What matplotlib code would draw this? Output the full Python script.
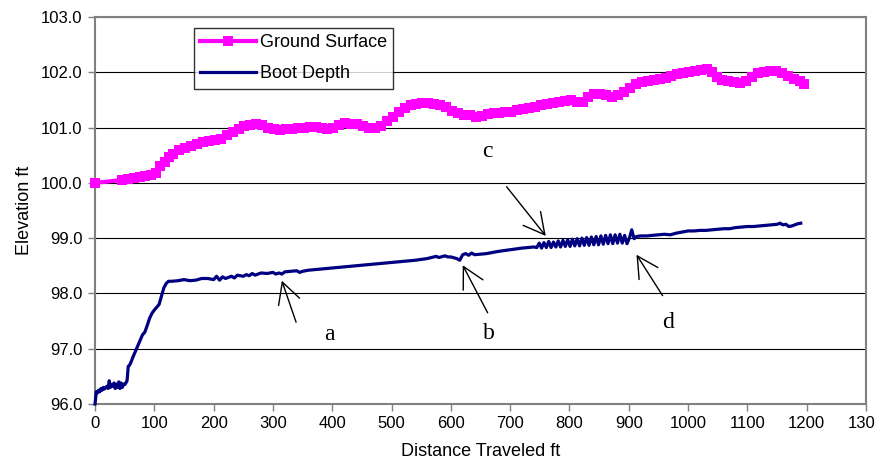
import matplotlib
matplotlib.use("Agg")
import matplotlib.pyplot as plt

plt.rcParams['font.family'] = ['Liberation Sans', 'DejaVu Sans']

# Ground surface readings (ft, elevation ft)
ground_x = [0, 45, 55, 65, 75, 85, 95, 102, 110, 118, 125, 132, 142, 152, 162, 172, 182, 192,
            202, 212, 222, 232, 242, 252, 262, 272, 282, 292, 302, 312, 322, 332, 342, 352,
            362, 372, 382, 392, 402, 412, 422, 432, 442, 452, 462, 472, 482, 492, 502, 512,
            522, 532, 542, 552, 562, 572, 582, 592, 602, 612, 622, 632, 642, 652, 662, 672,
            682, 692, 702, 712, 722, 732, 742, 752, 762, 772, 782, 792, 802, 812, 822, 832,
            842, 852, 862, 872, 882, 892, 902, 912, 922, 932, 942, 952, 962, 972, 982, 992,
            1002, 1012, 1022, 1032, 1040, 1048, 1058, 1068, 1078, 1088, 1098, 1108, 1118,
            1128, 1138, 1148, 1158, 1168, 1178, 1188, 1196]
ground_y = [100.00, 100.05, 100.07, 100.08, 100.10, 100.12, 100.15, 100.18, 100.30, 100.37,
            100.46, 100.52, 100.59, 100.63, 100.67, 100.71, 100.74, 100.76, 100.77, 100.80,
            100.87, 100.92, 100.98, 101.03, 101.05, 101.06, 101.04, 100.99, 100.97, 100.96,
            100.97, 100.98, 100.99, 101.00, 101.01, 101.01, 101.00, 100.98, 100.99, 101.04,
            101.08, 101.07, 101.06, 101.03, 101.00, 101.00, 101.03, 101.12, 101.20, 101.28,
            101.36, 101.41, 101.43, 101.44, 101.44, 101.43, 101.41, 101.37, 101.30, 101.26,
            101.23, 101.22, 101.20, 101.21, 101.24, 101.26, 101.27, 101.28, 101.29, 101.31,
            101.33, 101.35, 101.38, 101.40, 101.43, 101.45, 101.47, 101.48, 101.49, 101.46,
            101.47, 101.56, 101.60, 101.60, 101.58, 101.55, 101.59, 101.65, 101.72, 101.78,
            101.82, 101.84, 101.86, 101.88, 101.90, 101.94, 101.97, 101.99, 102.01, 102.03,
            102.05, 102.06, 102.00, 101.92, 101.86, 101.84, 101.82, 101.81, 101.84, 101.92,
            101.98, 102.00, 102.03, 102.02, 101.98, 101.93, 101.88, 101.84, 101.78]

# Boot depth readings
boot_x = [0, 1, 2, 4, 6, 8, 10, 12, 14, 16, 18, 20, 22, 24, 26, 28, 30, 32, 34, 36, 38, 40,
          42, 44, 46, 48, 50, 52, 54, 56, 58, 60, 64, 68, 72, 76, 80, 84, 88, 92, 96, 100,
          104, 108, 112, 116, 120, 124,
          130, 140, 150, 160, 170, 180, 190, 200, 205, 210, 215, 220, 230, 235, 240, 250,
          255, 260, 265, 270, 280, 290, 300, 305, 310, 315, 320, 330, 340, 345, 350, 360,
          380, 400, 420, 440, 460, 480, 500, 520, 540, 560, 575, 580, 590, 595, 600, 610,
          615, 620, 625, 630, 635, 640, 650, 660, 680, 700, 720, 740,
          745, 749, 753, 757, 761, 765, 769, 773, 777, 781, 785, 789, 793, 797, 801, 805,
          809, 813, 817, 821, 825, 829, 833, 837, 841, 845, 849, 853, 857, 861, 865, 869,
          873, 877, 881, 885, 889, 893, 897, 901, 905, 909, 913,
          920, 930, 940, 950, 960, 970, 980, 990, 1000, 1010, 1020, 1030, 1040, 1050, 1060,
          1070, 1080, 1090, 1100, 1110, 1120, 1130, 1140, 1150, 1155, 1160, 1165, 1170,
          1175, 1180, 1185, 1190]
boot_y = [96.00, 96.10, 96.22, 96.20, 96.25, 96.22, 96.28, 96.25, 96.30, 96.27, 96.30, 96.32,
          96.28, 96.42, 96.30, 96.35, 96.32, 96.38, 96.28, 96.36, 96.30, 96.40, 96.28, 96.38,
          96.30, 96.36, 96.35, 96.38, 96.42, 96.68, 96.70, 96.74, 96.85, 96.95, 97.05, 97.15,
          97.25, 97.30, 97.42, 97.55, 97.64, 97.70, 97.75, 97.80, 97.95, 98.10, 98.18, 98.22,
          98.22, 98.23, 98.25, 98.23, 98.24, 98.27, 98.27, 98.25, 98.31, 98.24, 98.30, 98.27,
          98.31, 98.28, 98.33, 98.31, 98.34, 98.32, 98.36, 98.33, 98.37, 98.36, 98.38, 98.35,
          98.37, 98.35, 98.39, 98.40, 98.41, 98.38, 98.40, 98.42, 98.44, 98.46, 98.48, 98.50,
          98.52, 98.54, 98.56, 98.58, 98.60, 98.63, 98.67, 98.65, 98.68, 98.66, 98.66, 98.63,
          98.60, 98.70, 98.72, 98.69, 98.73, 98.70, 98.71, 98.72, 98.76, 98.79, 98.82, 98.84,
          98.83, 98.91, 98.82, 98.92, 98.83, 98.94, 98.83, 98.93, 98.84, 98.95, 98.84, 98.96,
          98.85, 98.97, 98.85, 98.98, 98.86, 98.99, 98.86, 99.00, 98.87, 99.01, 98.87, 99.02,
          98.88, 99.03, 98.88, 99.04, 98.89, 99.05, 98.90, 99.06, 98.90, 99.06, 98.91, 99.07,
          98.91, 99.05, 98.90, 99.00, 99.15, 98.99, 99.03,
          99.04, 99.04, 99.05, 99.06, 99.07, 99.06, 99.09, 99.11, 99.13, 99.13, 99.14, 99.14,
          99.15, 99.16, 99.17, 99.17, 99.19, 99.20, 99.21, 99.21, 99.22, 99.23, 99.24, 99.25,
          99.27, 99.24, 99.25, 99.21, 99.22, 99.24, 99.26, 99.27]

# annotation labels: (label, label pos, arrow tail, arrow tip)
notes = [
    ('a', (395, 97.25), (339, 97.48), (315, 98.23)),
    ('b', (664, 97.27), (662, 97.65), (620, 98.51)),
    ('c', (661, 100.56), (694, 99.93), (760, 99.04)),
    ('d', (966, 97.48), (957, 97.96), (913, 98.70)),
]

fig = plt.figure(figsize=(8.75, 4.76), dpi=100)
ax = fig.add_axes([0.1086, 0.1513, 0.8811, 0.8130])

ax.plot(ground_x, ground_y, color='#FF00FF', lw=3, marker='s', markersize=6.5,
        markeredgewidth=0, label='Ground Surface', clip_on=False, zorder=3)
ax.plot(boot_x, boot_y, color='#000080', lw=2.3, label='Boot Depth', clip_on=False, zorder=3)

ax.set_xlim(0, 1300)
ax.set_ylim(96, 103)
ax.set_xticks(range(0, 1301, 100))
ax.set_yticks([96, 97, 98, 99, 100, 101, 102, 103])
ax.set_yticklabels([f'{v:.1f}' for v in ax.get_yticks()])
ax.tick_params(axis='both', direction='out', length=5, width=1, color='#808080',
               labelsize=12, pad=4)
ax.yaxis.grid(True, color='black', lw=0.8)
ax.set_axisbelow(True)
for s in ax.spines.values():
    s.set_color('#808080')
    s.set_linewidth(1.5)

ax.set_xlabel('Distance Traveled ft', fontsize=13, labelpad=8)
ax.set_ylabel('Elevation ft', fontsize=13, labelpad=6)

for lab, lpos, tail, tip in notes:
    ax.annotate('', xy=tip, xytext=tail,
                arrowprops=dict(arrowstyle='->,head_length=1.5,head_width=0.8',
                                color='black', lw=1, shrinkA=0, shrinkB=0,
                                mutation_scale=10))
    ax.text(lpos[0], lpos[1], lab, family='Liberation Serif', fontsize=17,
            ha='center', va='center')

leg = ax.legend(loc='upper left', bbox_to_anchor=(0.128, 0.972), borderaxespad=0,
                fontsize=13, frameon=True, fancybox=False, edgecolor='black',
                handlelength=3.1, handletextpad=0.2, numpoints=1, borderpad=0.35,
                labelspacing=0.78)
leg.get_frame().set_linewidth(1)
leg.legend_handles[0].set_markersize(7)

fig.savefig('out.png', dpi=100)
